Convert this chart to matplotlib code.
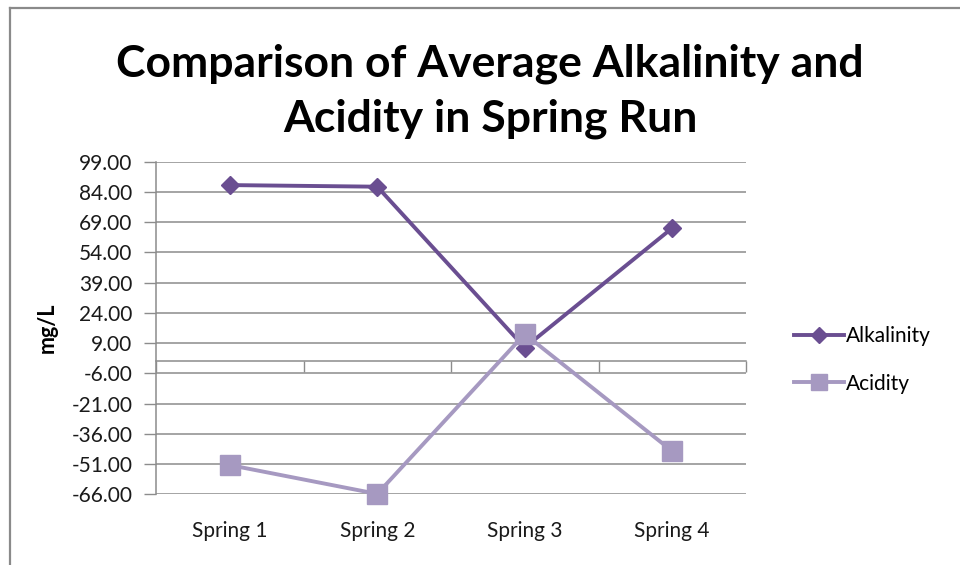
import matplotlib
matplotlib.use("Agg")
import matplotlib.pyplot as plt
from matplotlib.lines import Line2D
import numpy as np

categories = ["Spring 1", "Spring 2", "Spring 3", "Spring 4"]
alkalinity = [87.4, 86.6, 6.8, 66.1]
acidity = [-51.5, -65.8, 13.5, -44.6]
y_ticks = [99, 84, 69, 54, 39, 24, 9, -6, -21, -36, -51, -66]
title = "Comparison of Average Alkalinity and\nAcidity in Spring Run"
ylabel = "mg/L"

plt.rcParams['font.family'] = ['Lato', 'DejaVu Sans']

W, H = 960, 565
fig = plt.figure(figsize=(W / 100, H / 100), dpi=100)
ax = fig.add_axes([156 / W, 1 - 494.3 / H, (746 - 156) / W, (494.3 - 161.7) / H])

ymin, ymax = min(y_ticks), max(y_ticks)
ax.set_ylim(ymin, ymax)
ax.set_xlim(-0.5, len(categories) - 0.5)
x = np.arange(len(categories))

grid_c = "#8c8c8c"
ax.set_yticks(y_ticks)
ax.set_yticklabels([f"{v:.2f}" for v in y_ticks], fontsize=15, color="#1a1a1a")
ax.yaxis.grid(True, color=grid_c, linewidth=1.1)
ax.set_axisbelow(True)
ax.tick_params(axis='y', direction='out', length=9, color=grid_c, width=1, pad=8)

ax.set_xticks(x)
ax.set_xticklabels(categories, fontsize=15, color="#1a1a1a")
ax.tick_params(axis='x', length=0, pad=19)

for s in ['top', 'right', 'bottom']:
    ax.spines[s].set_visible(False)
ax.spines['left'].set_color(grid_c)
ax.spines['left'].set_linewidth(1.1)

# horizontal category axis crossing at zero
zero_loc = (0 - ymin) / (ymax - ymin)
sec = ax.secondary_xaxis(zero_loc)
sec.set_xticks(np.arange(-0.5, len(categories), 1.0))
sec.set_xticklabels([])
sec.tick_params(direction='out', length=8, color=grid_c, width=1)
sec.spines['bottom'].set_color(grid_c)
sec.spines['bottom'].set_linewidth(1.1)
sec.spines['top'].set_visible(False)

c_alk = "#6A4E91"
c_acd = "#A699C1"
l1, = ax.plot(x, alkalinity, color=c_alk, linewidth=2.8, marker='D', markersize=9.5,
              label="Alkalinity", zorder=3, clip_on=False)
l2, = ax.plot(x, acidity, color=c_acd, linewidth=2.8, marker='s', markersize=14,
              label="Acidity", zorder=3, clip_on=False)

ax.set_ylabel(ylabel, fontsize=15.5, fontweight='bold', labelpad=10)

fig.legend(handles=[l1, l2], loc='center left', bbox_to_anchor=(775 / W, 1 - 360 / H),
           frameon=False, fontsize=15, labelspacing=1.3, handlelength=2.4,
           handletextpad=0.1, markerscale=0.85)

fig.text(490 / W, 1 - 91 / H, title, ha='center', va='center', fontsize=32,
         fontweight='bold', linespacing=1.45)

# outer chart border
fig.add_artist(Line2D([10 / W, 10 / W], [0, 1 - 8 / H], color="#8a8a8a", linewidth=1.6))
fig.add_artist(Line2D([10 / W, 1], [1 - 8 / H, 1 - 8 / H], color="#8a8a8a", linewidth=1.6))

fig.savefig("out.png", dpi=100, facecolor="white")
